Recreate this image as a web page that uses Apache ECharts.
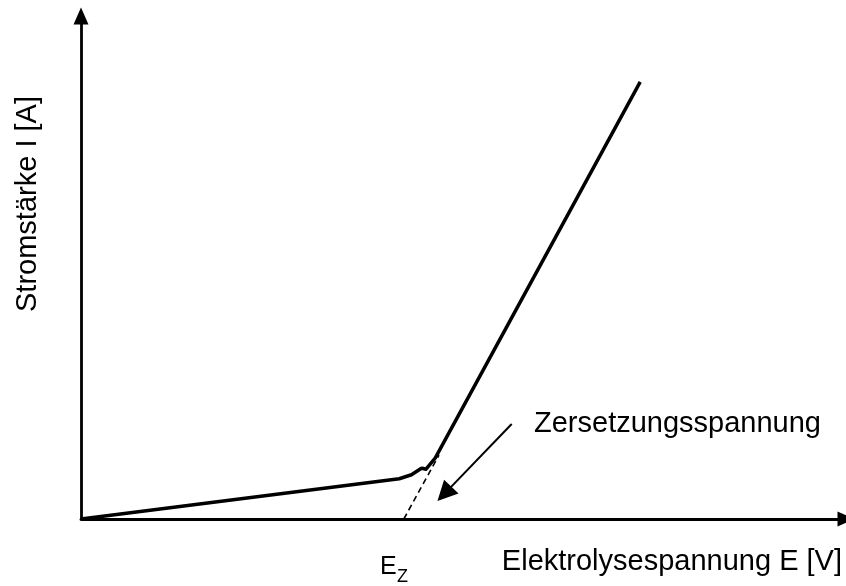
<!DOCTYPE html>
<html>
<head>
<meta charset="utf-8">
<script src="https://cdn.jsdelivr.net/npm/echarts@6/dist/echarts.min.js"></script>
<style>
  html, body { margin: 0; padding: 0; background: #fff; }
  #chart { width: 846px; height: 586px; }
</style>
</head>
<body>
<div id="chart"></div>
<script>
// measured curve: voltage E (arbitrary units) vs current I
const voltage = [0, 4.16, 4.32, 4.43, 4.46, 4.51, 4.63, 7.31];
const current = [0, 0.80, 0.88, 0.99, 1.01, 0.99, 1.21, 8.69];

// extrapolated tangent down to the axis (E_Z)
const tangentE = [4.22, 4.68];
const tangentI = [0, 1.27];

// annotation arrow pointing at the tangent
const arrowE = [5.63, 4.75];
const arrowI = [1.89, 0.50];

const xAxisTitle = "Elektrolysespannung E [V]";
const yAxisTitle = "Stromstärke I [A]";
const noteText = "Zersetzungsspannung";

const font = "Liberation Sans, Arial, sans-serif";
const fontSize = 29;

const zip = (xs, ys) => xs.map((x, i) => [x, ys[i]]);

const axisBase = {
  type: "value",
  min: 0,
  max: 10,
  axisLine: {
    show: true,
    symbol: ["none", "triangle"],
    symbolSize: [15, 17],
    lineStyle: { color: "#000", width: 2.8 },
  },
  axisTick: { show: false },
  axisLabel: { show: false },
  splitLine: { show: false },
};

const chart = echarts.init(document.getElementById("chart"));

chart.setOption({
  animation: false,
  backgroundColor: "#fff",
  grid: { left: 81, right: -2, top: 16, bottom: 67 },
  xAxis: axisBase,
  yAxis: axisBase,
  series: [
    {
      type: "line",
      data: zip(voltage, current),
      symbol: "none",
      lineStyle: { color: "#000", width: 3.5, join: "round" },
      z: 3,
    },
    {
      type: "line",
      data: zip(tangentE, tangentI),
      symbol: "none",
      lineStyle: { color: "#000", width: 1.6, type: [6, 4] },
      z: 2,
    },
    {
      type: "lines",
      coordinateSystem: "cartesian2d",
      symbol: ["none", "triangle"],
      symbolSize: [14, 20],
      lineStyle: { color: "#000", width: 2, opacity: 1 },
      data: [{ coords: zip(arrowE, arrowI) }],
      z: 2,
    },
  ],
  graphic: [
    {
      type: "text",
      x: 842,
      y: 562,
      style: {
        text: xAxisTitle,
        font: fontSize + "px " + font,
        fill: "#000",
        align: "right",
        verticalAlign: "middle",
      },
    },
    {
      type: "text",
      x: 28,
      y: 204,
      rotation: Math.PI / 2,
      style: {
        text: yAxisTitle,
        font: fontSize + "px " + font,
        fill: "#000",
        align: "center",
        verticalAlign: "middle",
      },
    },
    {
      type: "text",
      x: 534,
      y: 424,
      style: {
        text: noteText,
        font: fontSize + "px " + font,
        fill: "#000",
        align: "left",
        verticalAlign: "middle",
      },
    },
    {
      type: "text",
      x: 380,
      y: 567,
      style: {
        text: "E",
        font: "25px " + font,
        fill: "#000",
        align: "left",
        verticalAlign: "middle",
      },
    },
    {
      type: "text",
      x: 397,
      y: 577,
      style: {
        text: "Z",
        font: "18px " + font,
        fill: "#000",
        align: "left",
        verticalAlign: "middle",
      },
    },
  ],
});
</script>
</body>
</html>
